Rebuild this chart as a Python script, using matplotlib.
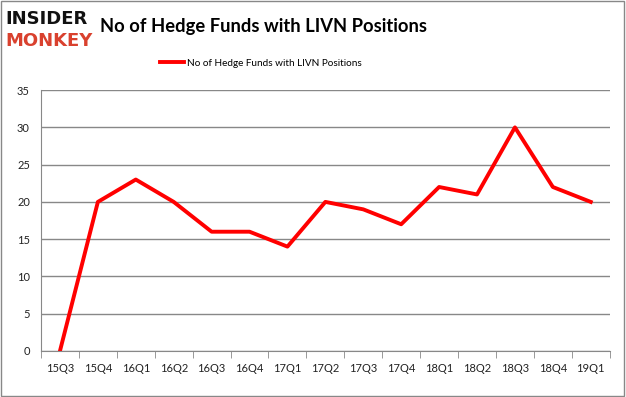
import matplotlib
matplotlib.use('Agg')
import matplotlib.pyplot as plt
from matplotlib.patches import Rectangle

quarters = ['15Q3', '15Q4', '16Q1', '16Q2', '16Q3', '16Q4', '17Q1', '17Q2',
            '17Q3', '17Q4', '18Q1', '18Q2', '18Q3', '18Q4', '19Q1']
funds = [0, 20, 23, 20, 16, 16, 14, 20, 19, 17, 22, 21, 30, 22, 20]
label = 'No of Hedge Funds with LIVN Positions'

plt.rcParams['font.family'] = ['Lato', 'DejaVu Sans']

fig = plt.figure(figsize=(6.26, 3.97), dpi=100)
fig.patches.append(Rectangle((0.002, 0.003), 0.995, 0.994, transform=fig.transFigure,
                             fill=False, edgecolor='#888888', linewidth=1))

ax = fig.add_axes([0.0655, 0.116, 0.9085, 0.657])
x = range(len(quarters))
ax.plot(x, funds, color='#ff0000', linewidth=2.8, label=label)

ax.set_xlim(-0.5, len(quarters) - 0.5)
ax.set_ylim(0, 35)
ax.set_yticks(range(0, 36, 5))
ax.set_xticks(x)
ax.set_xticklabels(quarters)
ax.set_xticks([i - 0.5 for i in range(len(quarters) + 1)], minor=True)
ax.tick_params(axis='x', which='major', length=0, pad=9, labelsize=8, colors='#222222')
ax.tick_params(axis='x', which='minor', length=5, color='#888888')
ax.tick_params(axis='y', length=0, pad=8, labelsize=8, colors='#222222')
ax.grid(axis='y', color='#888888', linewidth=1)
ax.set_axisbelow(True)
for s in ['top', 'right']:
    ax.spines[s].set_visible(False)
for s in ['left', 'bottom']:
    ax.spines[s].set_color('#888888')

ax.legend(loc='center', bbox_to_anchor=(0.387, 1.103), frameon=False, fontsize=7.2,
          handlelength=2.4, handletextpad=0.3)

fig.text(0.16, 0.932, 'No of Hedge Funds with LIVN Positions', fontsize=13.2,
         fontweight='bold', va='center', ha='left')
fig.text(0.008, 0.952, 'INSIDER', fontsize=13, fontweight='heavy', color='#111111',
         va='center', ha='left', family='DejaVu Sans')
fig.text(0.008, 0.897, 'MONKEY', fontsize=13, fontweight='heavy', color='#d9412e',
         va='center', ha='left', family='DejaVu Sans')

fig.savefig('out.png', dpi=100)
